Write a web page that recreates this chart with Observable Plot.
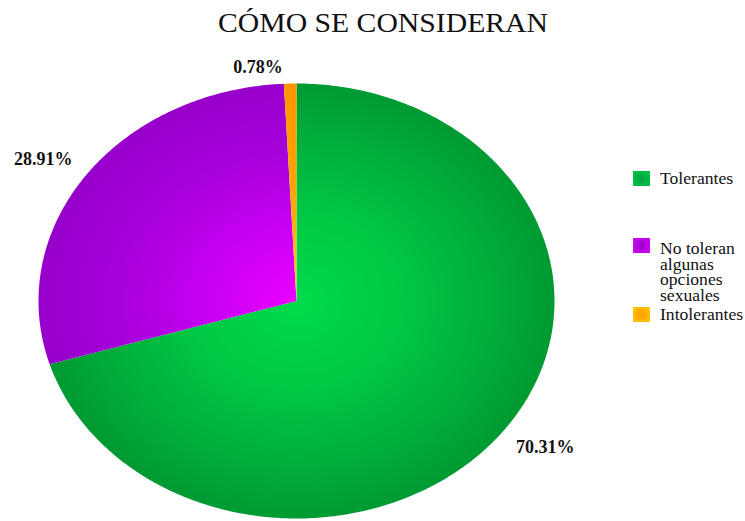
<!DOCTYPE html>
<html>
<head>
<meta charset="utf-8">
<script src="https://cdn.jsdelivr.net/npm/d3@7"></script>
<script src="https://cdn.jsdelivr.net/npm/@observablehq/plot@0.6"></script>
<style>
  body { margin: 0; background: #fff; }
  #wrap { position: relative; width: 745px; height: 521px; overflow: hidden; background: #fff;
          font-family: "Liberation Serif", "Times New Roman", serif; color: #111; }
  #title { position: absolute; left: 383px; top: 10px; font-size: 27px; line-height: 27px; white-space: nowrap;
           font-family: "Liberation Serif", "Times New Roman", serif;
           transform: translateX(-50%) scaleX(1.1); }
  .sw { position: absolute; left: 633px; width: 17px; height: 15px; }
  .lt { position: absolute; left: 660px; font-size: 16px; line-height: 15.7px; width: 76px;
        font-family: "Liberation Serif", "Times New Roman", serif;
        transform: scaleX(1.1); transform-origin: left top; }
  svg { position: absolute; left: 0; top: 0; }
</style>
</head>
<body>
<div id="wrap"><div id="title"></div></div>
<script>
// ---- data ----
const title = "CÓMO SE CONSIDERAN";
const categories = ["Tolerantes", "No toleran algunas opciones sexuales", "Intolerantes"];
const percents = [70.31, 28.91, 0.78];
const labels = ["70.31%", "28.91%", "0.78%"];

// ---- styles ----
const gradStops = [
  [[0, "#00dc4c"], [0.4, "#00c844"], [0.75, "#00ae3a"], [1, "#009a32"]],
  [[0, "#ec00ff"], [0.35, "#c600f2"], [0.7, "#a600da"], [1, "#9600ca"]],
  [[0, "#ffcc33"], [0.5, "#ffa500"], [1, "#ff9600"]]
];
const swatchCss = [
  "radial-gradient(circle, #00a040 0%, #00cc48 100%)",
  "radial-gradient(circle, #9400c8 0%, #dd00ff 100%)",
  "radial-gradient(circle, #ff9900 0%, #ffcc00 100%)"
];
const legendTops = [171, 238, 307];
const textTops = [171, 241, 307];

// ---- build slices ----
const pie = d3.pie().sort(null).value(d => d.value).startAngle(0).endAngle(2 * Math.PI);
const arcs = pie(categories.map((c, i) => ({key: c, value: percents[i], label: labels[i], i})));

function slicePoints(a) {
  const n = Math.max(2, Math.ceil((a.endAngle - a.startAngle) / 0.01));
  const pts = [{x: 0, y: 0}];
  for (let k = 0; k <= n; k++) {
    const t = a.startAngle + (a.endAngle - a.startAngle) * k / n;
    pts.push({x: Math.sin(t), y: -Math.cos(t)});
  }
  pts.push({x: 0, y: 0});
  return pts;
}

const labelRows = arcs.map(a => {
  const m = (a.startAngle + a.endAngle) / 2;
  return {x: 1.2 * Math.sin(m), y: -1.13 * Math.cos(m), label: a.data.label, small: a.data.value < 5};
});

const W = 745, H = 521;
const plot = Plot.plot({
  width: W, height: H, margin: 0,
  style: {background: "transparent"},
  x: {type: "linear", domain: [-1, 1], range: [38, 554], axis: null},
  y: {type: "linear", domain: [-1, 1], range: [83, 518], axis: null},
  marks: [
    ...arcs.map((a, i) => Plot.line(slicePoints(a), {x: "x", y: "y", fill: `url(#pg${i})`, stroke: "none", curve: "linear"})),
    Plot.text(labelRows.filter(d => !d.small), {x: "x", y: "y", text: "label", fontSize: 18, fontWeight: "bold",
      fontFamily: "Liberation Serif, Times New Roman, serif", fill: "#111"}),
    Plot.text(labelRows.filter(d => d.small), {x: "x", y: "y", text: "label", dx: -31, dy: 12, fontSize: 18, fontWeight: "bold",
      fontFamily: "Liberation Serif, Times New Roman, serif", fill: "#111"})
  ]
});

// gradients
const sx = plot.scale("x"), sy = plot.scale("y");
const cx = sx.apply(0), cy = sy.apply(0);
const rx = sx.apply(1) - cx, ry = sy.apply(1) - cy;
const svg = d3.select(plot);
const defs = svg.insert("defs", ":first-child");
gradStops.forEach((stops, i) => {
  const g = defs.append("radialGradient").attr("id", `pg${i}`)
    .attr("gradientUnits", "userSpaceOnUse")
    .attr("cx", 0).attr("cy", 0).attr("r", 1)
    .attr("gradientTransform", `translate(${cx},${cy}) scale(${rx},${ry})`);
  stops.forEach(([o, c]) => g.append("stop").attr("offset", o).attr("stop-color", c));
});

const wrap = document.getElementById("wrap");
wrap.insertBefore(plot, wrap.firstChild);
document.getElementById("title").textContent = title;

categories.forEach((c, i) => {
  const sw = document.createElement("div");
  sw.className = "sw"; sw.style.top = legendTops[i] + "px"; sw.style.background = swatchCss[i];
  wrap.appendChild(sw);
  const t = document.createElement("div");
  t.className = "lt"; t.style.top = textTops[i] + "px"; t.textContent = c;
  wrap.appendChild(t);
});
</script>
</body>
</html>
